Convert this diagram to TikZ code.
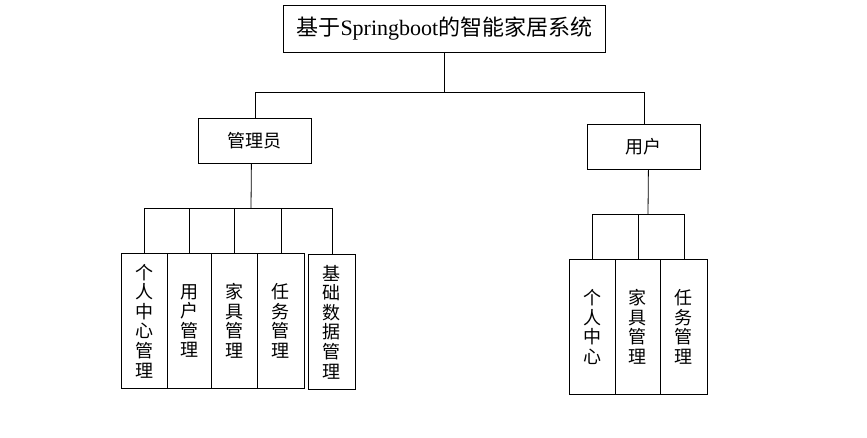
\documentclass[tikz,border=0pt]{standalone}
\usepackage{fontspec}
\setmainfont{Liberation Serif}
\newfontfamily\cjk{Noto Sans CJK SC}
\begin{document}
\begin{tikzpicture}[x=1pt,y=-1pt,
  box/.style={draw, line width=0.8pt, inner sep=0pt, align=center, anchor=north west,
    font=\cjk\fontsize{18}{19.6}\selectfont},
  link/.style={line width=0.8pt}]
\useasboundingbox (0,0) rectangle (867,438);
% root
\node[box, minimum width=322pt, minimum height=47pt, font=\fontsize{22}{24}\selectfont] (root) at (283,5) {{\cjk 基于}Springboot{\cjk 的智能家居系统}};
% second level
\node[box, minimum width=113pt, minimum height=45pt] (admin) at (198,118) {管理员};
\node[box, minimum width=113pt, minimum height=45pt] (user) at (587,124) {用户};
% admin children
\node[box, minimum width=46pt, minimum height=135pt] (a1) at (121,253) {个\\人\\中\\心\\管\\理};
\node[box, minimum width=44pt, minimum height=135pt] (a2) at (167,253) {用\\户\\管\\理};
\node[box, minimum width=46pt, minimum height=135pt] (a3) at (211,253) {家\\具\\管\\理};
\node[box, minimum width=47pt, minimum height=135pt] (a4) at (257,253) {任\\务\\管\\理};
\node[box, minimum width=47pt, minimum height=135pt] (a5) at (308,254) {基\\础\\数\\据\\管\\理};
% user children
\node[box, minimum width=46pt, minimum height=135pt] (u1) at (569,259) {个\\人\\中\\心};
\node[box, minimum width=45pt, minimum height=135pt] (u2) at (615,259) {家\\具\\管\\理};
\node[box, minimum width=47pt, minimum height=135pt] (u3) at (660,259) {任\\务\\管\\理};
% bus levels
\coordinate (topbus) at (444,92);
\coordinate (abus) at (251,208);
\coordinate (ubus) at (648,214);
% connectors
\draw[link] (root.south) -- (root.south |- topbus);
\draw[link] (admin.north) -- (admin.north |- topbus) -- (user.north |- topbus) -- (user.north);
\draw[link] ([xshift=-3.5pt]admin.south) -- (abus);
\draw[link] (a1.north) -- (a1.north |- abus) -- (a5.north |- abus) -- (a5.north);
\foreach \n in {a2,a3,a4} \draw[link] (\n.north) -- (\n.north |- abus);
\draw[link] ([xshift=4.5pt]user.south) -- (ubus);
\draw[link] (u1.north) -- (u1.north |- ubus) -- (u3.north |- ubus) -- (u3.north);
\draw[link] (u2.north) -- (u2.north |- ubus);
\end{tikzpicture}
\end{document}
